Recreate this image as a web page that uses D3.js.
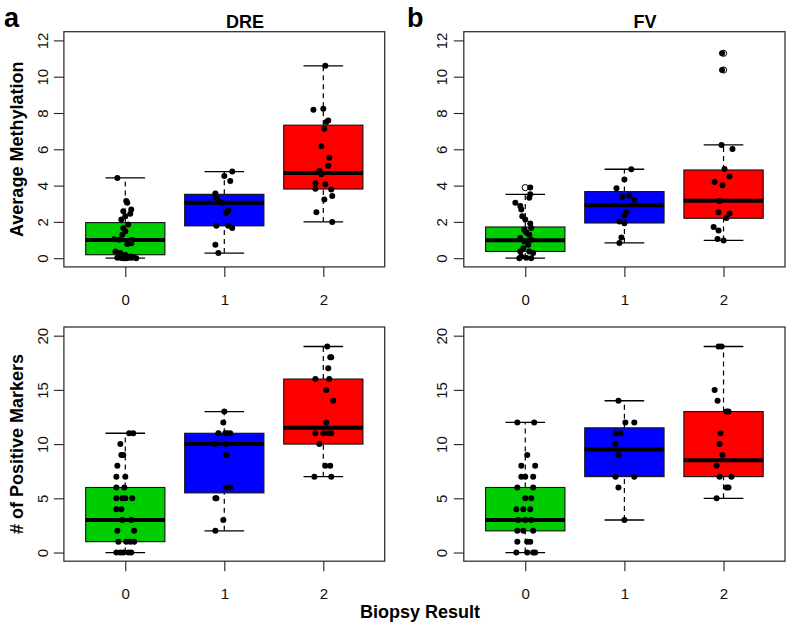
<!DOCTYPE html>
<html><head><meta charset="utf-8">
<script src="https://cdn.jsdelivr.net/npm/d3@7"></script>
<style>body{margin:0;background:#fff}svg{display:block;font-family:"Liberation Sans",Arial,Helvetica,sans-serif}</style>
</head><body><svg id="c" width="788" height="626"></svg>
<script>
// ---------- data ----------
const categories = ["0", "1", "2"];
const methTicks = [0, 2, 4, 6, 8, 10, 12];
const markerTicks = [0, 5, 10, 15, 20];

// points: [value, horizontal jitter in category units]
const dreMethG0 = [[4.42,-0.08],[3.15,0.01],[3.05,0.02],[2.68,0.06],[2.59,-0.02],[2.45,0.05],[2.31,0.00],[2.13,-0.04],[1.85,0.03],[1.67,-0.02],[1.48,0.00],[1.29,-0.03],[1.05,-0.11],[1.02,-0.06],[1.00,0.07],[0.95,0.04],[0.83,0.06],[0.78,0.02],[0.37,-0.10],[0.28,-0.05],[0.18,0.00],[0.09,0.05],[0.05,0.08],[0.03,-0.08],[0.02,0.03],[0.01,-0.04],[0.00,0.11],[0.00,0.01],[0.00,-0.02],[0.02,0.06]];
const dreMethG1 = [[4.78,0.08],[4.53,0.00],[4.26,0.06],[3.56,-0.09],[3.33,-0.08],[3.11,-0.05],[3.06,-0.02],[2.63,0.04],[2.50,0.02],[1.79,-0.08],[1.79,0.04],[1.67,0.08],[0.74,-0.09],[0.28,-0.06]];
const dreMethG2 = [[10.61,0.02],[8.18,-0.10],[8.24,0.00],[7.59,0.05],[7.50,0.03],[7.13,0.01],[6.17,-0.02],[5.53,0.06],[5.09,0.05],[4.81,-0.04],[4.63,-0.02],[4.72,-0.03],[4.13,-0.08],[4.07,0.02],[3.83,-0.08],[3.79,0.08],[3.42,0.09],[3.24,0.01],[2.53,-0.07],[2.00,0.09]];
// box stats: [lower whisker, Q1, median, Q3, upper whisker]
const dreMethStats = [[0,0.19,1.0,1.96,4.42],[0.28,1.78,3.06,3.52,4.77],[2.0,3.81,4.70,7.33,10.6]];
const dreMethOut = [[],[],[]];

const fvMethG0 = [[3.89,0.05],[3.52,0.05],[3.33,0.04],[3.06,-0.10],[2.87,-0.05],[2.68,-0.04],[2.31,-0.03],[2.13,0.00],[1.91,0.05],[1.67,0.06],[1.57,-0.01],[1.42,0.01],[1.29,0.04],[1.11,-0.05],[1.02,0.06],[0.92,-0.01],[0.74,0.03],[0.55,-0.02],[0.37,-0.05],[0.37,0.04],[0.28,0.08],[0.09,-0.04],[0.02,0.01],[0.00,0.06],[0.00,-0.06]];
const fvMethG1 = [[4.90,0.07],[4.33,0.00],[3.85,-0.08],[3.45,0.05],[3.38,-0.02],[3.21,0.10],[2.53,0.02],[2.35,0.00],[2.02,-0.05],[1.93,0.00],[1.14,-0.03],[0.84,-0.05]];
const fvMethG2 = [[11.29,-0.015],[10.37,-0.015],[6.24,-0.02],[6.02,0.09],[4.91,0.01],[4.50,0.06],[4.20,-0.09],[4.02,-0.01],[3.15,-0.04],[2.53,-0.05],[2.46,0.06],[2.22,0.03],[1.72,-0.10],[1.52,-0.05],[1.06,-0.06],[0.98,0.00]];
const fvMethStats = [[0,0.37,0.99,1.72,3.52],[0.84,1.94,2.92,3.67,4.90],[0.98,2.20,3.16,4.86,6.24]];
const fvMethOut = [[3.89],[],[11.29,10.37]];

const dreMarkG0 = [[11,0.04],[11,0.08],[10,-0.05],[9,-0.04],[9,-0.02],[8,-0.08],[7,-0.09],[7,0.0],[6,-0.09],[6,-0.01],[5,-0.09],[5,-0.03],[5,0.0],[5,0.07],[4,-0.09],[4,-0.04],[3,-0.03],[3,0.06],[2,-0.08],[2,0.09],[1,-0.07],[1,0.01],[1,0.05],[1,0.09],[0,-0.09],[0,-0.05],[0,-0.02],[0,0.03],[0,0.06]];
const dreMarkG1 = [[13,0.0],[12,-0.01],[11,-0.06],[11,0.01],[11,0.06],[11,0.03],[10,-0.09],[10,0.02],[9,0.02],[6,0.02],[6,0.06],[5,-0.09],[5,-0.08],[3,-0.01],[2,-0.09]];
const dreMarkG2 = [[19,0.04],[18,0.07],[18,0.08],[17,0.05],[16,-0.08],[16,0.06],[15,0.03],[14,0.10],[12,0.03],[11,-0.08],[11,0.0],[11,0.05],[11,0.08],[10,-0.04],[8,0.02],[8,0.07],[7,-0.09],[7,0.08]];
const dreMarkStats = [[0,1,3,6,11],[2,5.5,10,11,13],[7,10,11.5,16,19]];
const dreMarkOut = [[],[],[]];

const fvMarkG0 = [[12,-0.08],[12,0.09],[9,0.02],[8,-0.04],[8,0.10],[7,-0.04],[7,0.0],[7,0.08],[6,-0.08],[6,0.08],[5,0.0],[5,0.06],[4,-0.09],[4,-0.02],[4,0.05],[3,-0.07],[3,0.0],[3,0.06],[2,-0.08],[2,-0.02],[2,0.08],[1,-0.08],[1,0.02],[1,0.05],[0,-0.09],[0,0.02],[0,0.08],[0,0.10]];
const fvMarkG1 = [[14,-0.06],[12,0.01],[12,0.10],[11,-0.09],[11,-0.04],[10,-0.09],[9,-0.06],[7,-0.09],[7,0.10],[6,-0.06],[3,0.0]];
const fvMarkG2 = [[19,-0.05],[19,-0.02],[15,-0.09],[14,-0.06],[13,0.03],[13,0.05],[11,-0.03],[10,-0.04],[9,-0.01],[8,-0.07],[7,-0.04],[7,0.08],[6,0.03],[6,0.05],[5,-0.07]];
const fvMarkStats = [[0,2,3,6,12],[3,7,9.5,11.5,14],[5,7,8.5,13,19]];
const fvMarkOut = [[],[],[]];

// ---------- drawing ----------
const boxColors = ["#00CD00", "#0000FF", "#FF0000"];
const svg = d3.select("#c");

const panels = [
  {title:"DRE", groups:[dreMethG0,dreMethG1,dreMethG2], stats:dreMethStats, out:dreMethOut, ticks:methTicks, ymax:12, left:63.9, right:384.7, top:31.7, bottom:266.9, titleX:245},
  {title:"FV",  groups:[fvMethG0,fvMethG1,fvMethG2],   stats:fvMethStats,  out:fvMethOut,  ticks:methTicks, ymax:12, left:463.8, right:785, top:31.7, bottom:266.9, titleX:645},
  {title:null,  groups:[dreMarkG0,dreMarkG1,dreMarkG2], stats:dreMarkStats, out:dreMarkOut, ticks:markerTicks, ymax:20, left:63.9, right:384.7, top:327, bottom:561.2},
  {title:null,  groups:[fvMarkG0,fvMarkG1,fvMarkG2],   stats:fvMarkStats,  out:fvMarkOut,  ticks:markerTicks, ymax:20, left:463.8, right:785, top:327, bottom:561.2}
];

panels.forEach(p => {
  const ext = p.ymax * 0.04;
  const x = d3.scaleLinear().domain([0.38, 3.62]).range([p.left, p.right]);
  const y = d3.scaleLinear().domain([-ext, p.ymax + ext]).range([p.bottom, p.top]);
  const g = svg.append("g");

  p.stats.forEach((s, i) => {
    const c = i + 1;
    [[s[0], s[1]], [s[3], s[4]]].forEach(([a, b]) => {
      g.append("line").attr("x1", x(c)).attr("x2", x(c)).attr("y1", y(a)).attr("y2", y(b))
        .attr("stroke", "#000").attr("stroke-width", 1.2).attr("stroke-dasharray", "5,4");
    });
    [s[0], s[4]].forEach(v => {
      g.append("line").attr("x1", x(c - 0.2)).attr("x2", x(c + 0.2)).attr("y1", y(v)).attr("y2", y(v))
        .attr("stroke", "#000").attr("stroke-width", 1.3);
    });
    g.append("rect").attr("x", x(c - 0.4)).attr("width", x(c + 0.4) - x(c - 0.4))
      .attr("y", y(s[3])).attr("height", y(s[1]) - y(s[3]))
      .attr("fill", boxColors[i]).attr("stroke", "#111").attr("stroke-width", 1.1);
    g.append("line").attr("x1", x(c - 0.4)).attr("x2", x(c + 0.4)).attr("y1", y(s[2])).attr("y2", y(s[2]))
      .attr("stroke", "#000").attr("stroke-width", 4);
  });

  p.out.forEach((arr, i) => {
    g.selectAll(null).data(arr).enter().append("circle")
      .attr("cx", x(i + 1)).attr("cy", d => y(d)).attr("r", 3.1)
      .attr("fill", "none").attr("stroke", "#000").attr("stroke-width", 1);
  });

  p.groups.forEach((arr, i) => {
    g.selectAll(null).data(arr).enter().append("circle")
      .attr("cx", d => x(i + 1 + d[1])).attr("cy", d => y(d[0])).attr("r", 3)
      .attr("fill", "#000");
  });

  g.append("rect").attr("x", p.left).attr("y", p.top).attr("width", p.right - p.left).attr("height", p.bottom - p.top)
    .attr("fill", "none").attr("stroke", "#333").attr("stroke-width", 1.3);

  const ya = d3.axisLeft(y).tickValues(p.ticks).tickSize(10).tickSizeOuter(0).tickPadding(0);
  const yg = g.append("g").attr("transform", `translate(${p.left},0)`).call(ya);
  yg.select(".domain").remove();
  yg.selectAll(".tick line").attr("stroke", "#222").attr("stroke-width", 1.1);
  yg.selectAll(".tick text").attr("x", null).attr("dy", null)
    .attr("transform", "translate(-16.4,0) rotate(-90)")
    .attr("text-anchor", "middle").attr("font-size", 15).attr("fill", "#111")
    .style("font-family", '"Liberation Sans",Arial,sans-serif');

  const xa = d3.axisBottom(x).tickValues([1, 2, 3]).tickFormat(d => categories[d - 1]).tickSize(10).tickSizeOuter(0).tickPadding(0);
  const xg = g.append("g").attr("transform", `translate(0,${p.bottom})`).call(xa);
  xg.select(".domain").remove();
  xg.selectAll(".tick line").attr("stroke", "#222").attr("stroke-width", 1.1);
  xg.selectAll(".tick text").attr("y", 38).attr("dy", null).attr("font-size", 15).attr("fill", "#111")
    .style("font-family", '"Liberation Sans",Arial,sans-serif');

  if (p.title) {
    svg.append("text").attr("x", p.titleX).attr("y", 28).attr("text-anchor", "middle")
      .attr("font-weight", "bold").attr("font-size", 18).text(p.title);
  }
});

svg.append("text").attr("x", 4).attr("y", 26.5).attr("font-weight", "bold").attr("font-size", 27).text("a");
svg.append("text").attr("x", 407).attr("y", 26.5).attr("font-weight", "bold").attr("font-size", 27).text("b");

svg.append("text").attr("transform", "translate(23,149.3) rotate(-90)").attr("text-anchor", "middle")
  .attr("font-weight", "bold").attr("font-size", 18).text("Average Methylation");
svg.append("text").attr("transform", "translate(23,444) rotate(-90)").attr("text-anchor", "middle")
  .attr("font-weight", "bold").attr("font-size", 18).text("# of Positive Markers");
svg.append("text").attr("x", 420).attr("y", 618).attr("text-anchor", "middle")
  .attr("font-weight", "bold").attr("font-size", 18).text("Biopsy Result");
</script></body></html>
